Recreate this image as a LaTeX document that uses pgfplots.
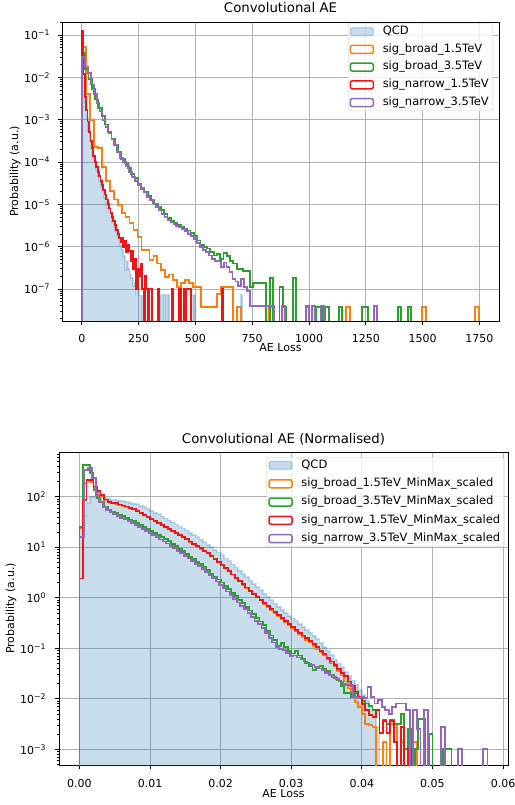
\documentclass[border=0pt]{standalone}
\usepackage{pgfplots}
\pgfplotsset{compat=1.18}
\usepackage{pgfplotstable}
\usepackage{fontspec}
\setmainfont{DejaVu Sans}

\definecolor{qcdblue}{HTML}{1F77B4}
\definecolor{cOrange}{HTML}{FF7F0E}
\definecolor{cGreen}{HTML}{2CA02C}
\definecolor{cRed}{RGB}{240,20,20}
\definecolor{cPurple}{HTML}{9467BD}
\definecolor{gridgray}{HTML}{B0B0B0}
\definecolor{legframe}{HTML}{CCCCCC}

% ---------- raw AE loss: bin left edge, density ----------
\pgfplotstableread{
x y
0 1e-12
0 0.100
7 0.012
14 0.0025
21 0.0011
28 0.00055
35 0.00032
42 0.00020
49 0.00013
56 0.000088
63 0.000064
70 0.000047
77 0.000035
84 0.000026
91 0.000019
98 0.000014
105 0.0000105
112 0.0000082
119 0.0000064
126 0.0000049
133 0.0000038
140 0.0000029
147 0.0000023
154 0.0000018
161 0.0000014
168 0.0000011
175 0.00000085
182 0.0000006
189 0.00000028
196 0.00000045
203 0.0000003
210 0.00000022
217 0.00000018
224 0.00000012
231 0.00000014
238 0.00000007
245 0.00000010
252 0.00000007
259 0.00000007
266 1e-12
343 0.000000072
350 1e-12
357 0.000000072
364 0.000000072
371 1e-12
378 0.000000072
385 1e-12
490 0.000000072
497 1e-12
700 0.000000072
707 1e-12
}\qcdraw

\pgfplotstableread{
x y
0 1e-12
0 0.053
17.5 0.0040
35 0.00098
52.5 0.00023
70 0.00021
87.5 0.000075
105 0.000036
122.5 0.000021
140 0.000013
157.5 0.0000098
175 0.0000062
192.5 0.0000050
210 0.0000036
227.5 0.0000025
245 0.0000017
262.5 0.00000085
280 0.00000082
297.5 0.00000048
315 0.00000060
332.5 0.00000040
350 0.00000028
367.5 0.00000019
385 0.00000022
402.5 0.00000016
420 0.00000011
437.5 0.00000014
455 0.00000016
472.5 0.00000014
490 0.00000011
507.5 0.00000011
525 0.000000038
542.5 0.000000038
560 0.000000038
577.5 0.000000038
595 0.000000075
612.5 0.00000011
630 0.00000011
647.5 0.00000011
665 1e-12
682.5 0.000000038
700 1e-12
822.5 0.000000038
840 1e-12
1162.5 0.000000038
1180 1e-12
1497.5 0.000000038
1515 1e-12
1732 0.000000038
1749 1e-12
}\bbroadraw

\pgfplotstableread{
x y
0 1e-12
0 0.037
14.5 0.016
29 0.0090
43.5 0.0052
58 0.0030
72.5 0.0019
87 0.0012
101.5 0.00077
116 0.00052
130.5 0.00036
145 0.00026
159.5 0.00017
174 0.000118
188.5 0.000095
203 0.000072
217.5 0.000052
232 0.000041
246.5 0.000031
261 0.000025
275.5 0.000020
290 0.000016
304.5 0.0000125
319 0.0000102
333.5 0.0000086
348 0.0000072
362.5 0.0000058
377 0.0000047
391.5 0.0000041
406 0.0000036
420.5 0.0000032
435 0.0000030
449.5 0.0000026
464 0.0000024
478.5 0.0000021
493 0.0000018
507.5 0.0000014
522 0.0000011
536.5 0.0000010
551 0.00000090
565.5 0.00000075
580 0.00000062
594.5 0.00000068
609 0.00000050
623.5 0.00000070
638 0.00000060
652.5 0.00000045
667 0.00000040
681.5 0.00000030
696 0.00000030
710.5 0.00000026
725 0.00000026
739.5 0.00000011
754 0.00000014
768.5 0.00000014
783 0.00000014
797.5 0.00000014
812 1e-12
826.5 0.00000018
841 1e-12
870 0.00000011
884.5 0.000000038
899 1e-12
928 0.00000018
942.5 1e-12
986 0.000000038
1000.5 1e-12
1029.5 0.000000038
1044 0.000000038
1058.5 1e-12
1073 0.000000038
1087.5 1e-12
1131 0.000000038
1145.5 1e-12
1232 0.000000038
1246.5 0.000000038
1261 1e-12
1392 0.000000038
1406.5 1e-12
1435.5 0.000000038
1450 1e-12
}\gbroadraw

\pgfplotstableread{
x y
0 1e-12
0 0.124
6.3 0.012
12.6 0.0034
18.9 0.0017
25.2 0.00090
31.5 0.00052
37.8 0.00032
44.1 0.00021
50.4 0.00014
56.7 0.000100
63.0 0.000076
69.3 0.000058
75.6 0.000046
81.9 0.000036
88.2 0.000028
94.5 0.000022
100.8 0.000017
107.1 0.000013
113.4 0.0000102
119.7 0.0000080
126.0 0.0000063
132.3 0.0000050
138.6 0.0000040
144.9 0.0000032
151.2 0.0000025
157.5 0.0000020
163.8 0.0000016
170.1 0.0000013
176.4 0.0000016
182.7 0.0000010
189.0 0.0000014
195.3 0.00000075
201.6 0.0000011
207.9 0.0000008
214.2 0.00000045
220.5 0.0000008
226.8 0.0000003
233.1 0.0000005
239.4 0.0000001
245.7 0.0000003
252.0 0.0000002
258.3 0.0000004
264.6 0.0000001
270.9 1e-12
277.2 0.0000002
283.5 0.0000001
289.8 1e-12
296.1 0.0000001
302.4 0.0000001
308.7 1e-12
333.9 0.0000001
340.2 1e-12
397.0 0.0000001
403.3 1e-12
428.5 0.0000001
434.8 1e-12
447.4 0.0000001
453.7 1e-12
460.0 0.0000001
466.3 0.0000001
472.6 0.0000001
478.9 1e-12
617.5 0.0000001
623.8 1e-12
}\rnarrowraw

\pgfplotstableread{
x y
0 1e-12
0 0.030
13 0.018
26 0.0125
39 0.0068
52 0.0040
65 0.0025
78 0.0016
91 0.0010
104 0.00068
117 0.00047
130 0.00034
143 0.00025
156 0.00017
169 0.000125
182 0.000098
195 0.000080
208 0.000058
221 0.000045
234 0.000036
247 0.000028
260 0.000023
273 0.000019
286 0.000015
299 0.0000125
312 0.0000105
325 0.0000088
338 0.0000074
351 0.0000060
364 0.0000050
377 0.0000043
390 0.0000038
403 0.0000034
416 0.0000031
429 0.0000029
442 0.0000026
455 0.0000023
468 0.0000020
481 0.0000018
494 0.0000015
507 0.0000012
520 0.0000010
533 0.00000085
546 0.00000075
559 0.00000062
572 0.00000050
585 0.00000045
598 0.00000045
611 0.00000033
624 0.00000042
637 0.00000033
650 0.00000025
663 0.00000017
676 0.00000015
689 0.00000012
702 0.00000017
715 0.00000011
728 0.00000009
741 0.00000004
754 0.00000004
767 0.00000004
780 0.00000004
793 0.00000004
806 0.00000004
819 0.00000004
832 0.00000004
845 1e-12
880 0.00000004
893 1e-12
988 0.00000004
1001 1e-12
1014 0.00000004
1027 1e-12
1053 0.00000004
1066 1e-12
1287 0.00000004
1300 1e-12
}\pnarrowraw

% ---------- MinMax-scaled AE loss ----------
\pgfplotstableread{
x y
0 1e-12
0 25
0.0005 42
0.0010 76
0.0015 100
0.0020 100
0.0025 98
0.0030 96
0.0035 93
0.0040 89
0.0045 87
0.0050 85
0.0055 83
0.0060 81
0.0065 78.5
0.0070 76
0.0075 73
0.0080 71
0.0085 66
0.0090 62
0.0095 57
0.0100 52.5
0.0105 48.4
0.0110 44.7
0.0115 40.7
0.0120 37.2
0.0125 33.9
0.0130 30.9
0.0135 28.2
0.0140 25.7
0.0145 23.4
0.0150 21.4
0.0155 19.3
0.0160 17.4
0.0165 15.7
0.0170 14.1
0.0175 12.6
0.0180 11.2
0.0185 10.0
0.0190 8.9
0.0195 7.85
0.0200 6.9
0.0205 6.0
0.0210 5.25
0.0215 4.57
0.0220 3.98
0.0225 3.43
0.0230 2.95
0.0235 2.54
0.0240 2.19
0.0245 1.88
0.0250 1.62
0.0255 1.40
0.0260 1.20
0.0265 1.035
0.0270 0.89
0.0275 0.77
0.0280 0.66
0.0285 0.575
0.0290 0.50
0.0295 0.44
0.0300 0.39
0.0305 0.343
0.0310 0.30
0.0315 0.266
0.0320 0.234
0.0325 0.204
0.0330 0.178
0.0335 0.151
0.0340 0.126
0.0345 0.106
0.0350 0.089
0.0355 0.073
0.0360 0.060
0.0365 0.050
0.0370 0.042
0.0375 0.034
0.0380 0.028
0.0385 0.023
0.0390 0.019
0.0395 0.015
0.0400 0.012
0.0405 0.0093
0.0410 0.0071
0.0415 0.0050
0.0420 0.0028
0.0425 1e-12
}\qcdnorm

\pgfplotstableread{
x y
0 1e-12
0 24
0.0005 190
0.0010 200
0.0015 198
0.0020 150
0.0025 125
0.0030 105
0.0035 87
0.0040 79
0.0045 75
0.0050 72
0.0055 69
0.0060 66
0.0065 63
0.0070 59
0.0075 56
0.0080 52
0.0085 48
0.0090 44
0.0095 40
0.0100 36
0.0105 33
0.0110 30
0.0115 27.5
0.0120 25
0.0125 23
0.0130 21
0.0135 19
0.0140 17.2
0.0145 15.8
0.0150 14.2
0.0155 12.9
0.0160 11.7
0.0165 10.4
0.0170 9.4
0.0175 8.5
0.0180 7.5
0.0185 6.7
0.0190 5.9
0.0195 5.1
0.0200 4.5
0.0205 3.9
0.0210 3.3
0.0215 2.9
0.0220 2.45
0.0225 2.15
0.0230 1.80
0.0235 1.58
0.0240 1.36
0.0245 1.16
0.0250 1.02
0.0255 0.88
0.0260 0.76
0.0265 0.66
0.0270 0.57
0.0275 0.50
0.0280 0.44
0.0285 0.38
0.0290 0.33
0.0295 0.29
0.0300 0.25
0.0305 0.22
0.0310 0.19
0.0315 0.165
0.0320 0.145
0.0325 0.13
0.0330 0.11
0.0335 0.095
0.0340 0.085
0.0345 0.074
0.0350 0.060
0.0355 0.050
0.0360 0.044
0.0365 0.036
0.0370 0.029
0.0375 0.022
0.0380 0.016
0.0385 0.011
0.0390 0.0085
0.0395 0.0070
0.0400 0.0050
0.0405 0.0032
0.0410 0.0030
0.0415 0.0028
0.0420 1e-12
0.0430 0.0014
0.0435 1e-12
0.0440 0.0032
0.0445 0.0032
0.0450 1e-12
0.0455 0.0014
0.0460 1e-12
0.0473 0.0014
0.0478 1e-12
}\bbroadnorm

\pgfplotstableread{
x y
0 1e-12
0 25.5
0.0005 424
0.0010 424
0.0015 295
0.0020 136
0.0025 95
0.0030 79
0.0035 63
0.0040 56
0.0045 51
0.0050 47
0.0055 44
0.0060 41
0.0065 38
0.0070 35.5
0.0075 33
0.0080 30
0.0085 27.5
0.0090 25
0.0095 23
0.0100 21
0.0105 19
0.0110 17.4
0.0115 15.8
0.0120 14.5
0.0125 13.2
0.0130 11.7
0.0135 10.5
0.0140 9.3
0.0145 8.3
0.0150 7.4
0.0155 6.5
0.0160 5.75
0.0165 5.1
0.0170 4.6
0.0175 4.0
0.0180 3.5
0.0185 3.0
0.0190 2.6
0.0195 2.3
0.0200 2.0
0.0205 1.7
0.0210 1.48
0.0215 1.26
0.0220 1.07
0.0225 0.91
0.0230 0.78
0.0235 0.66
0.0240 0.56
0.0245 0.47
0.0250 0.40
0.0255 0.34
0.0260 0.29
0.0265 0.22
0.0270 0.18
0.0275 0.148
0.0280 0.112
0.0285 0.126
0.0290 0.105
0.0295 0.089
0.0300 0.079
0.0305 0.087
0.0310 0.072
0.0315 0.063
0.0320 0.052
0.0325 0.045
0.0330 0.037
0.0335 0.043
0.0340 0.044
0.0345 0.040
0.0350 0.035
0.0355 0.030
0.0360 0.026
0.0365 0.023
0.0370 0.018
0.0375 0.013
0.0380 0.013
0.0385 0.011
0.0390 0.013
0.0395 0.011
0.0400 0.0089
0.0405 0.0081
0.0410 0.0071
0.0415 0.0060
0.0420 0.0060
0.0425 0.0021
0.0430 0.0038
0.0435 0.0032
0.0440 0.0038
0.0445 0.0032
0.0450 0.0032
0.0455 0.0050
0.0460 0.0010
0.0465 0.0025
0.0470 1e-12
0.0475 0.0010
0.0480 0.0040
0.0485 0.0040
0.0490 1e-12
0.0495 0.0020
0.0500 1e-12
0.0515 0.0010
0.0527 1e-12
}\gbroadnorm

\pgfplotstableread{
x y
0 1e-12
0 2.4
0.0005 86
0.0010 214
0.0015 214
0.0020 160
0.0025 128
0.0030 108
0.0035 88
0.0040 80
0.0045 76
0.0050 74
0.0055 70
0.0060 67
0.0065 64
0.0070 60
0.0075 57
0.0080 53
0.0085 48
0.0090 44
0.0095 40
0.0100 36
0.0105 33
0.0110 30
0.0115 27.5
0.0120 25
0.0125 23
0.0130 21
0.0135 19
0.0140 17.4
0.0145 15.8
0.0150 14.4
0.0155 13.0
0.0160 11.7
0.0165 10.5
0.0170 9.5
0.0175 8.5
0.0180 7.6
0.0185 6.7
0.0190 5.9
0.0195 5.2
0.0200 4.5
0.0205 3.9
0.0210 3.4
0.0215 2.9
0.0220 2.5
0.0225 2.15
0.0230 1.86
0.0235 1.60
0.0240 1.38
0.0245 1.20
0.0250 1.05
0.0255 0.91
0.0260 0.79
0.0265 0.69
0.0270 0.60
0.0275 0.52
0.0280 0.46
0.0285 0.40
0.0290 0.35
0.0295 0.30
0.0300 0.26
0.0305 0.23
0.0310 0.20
0.0315 0.18
0.0320 0.16
0.0325 0.14
0.0330 0.12
0.0335 0.105
0.0340 0.089
0.0345 0.076
0.0350 0.065
0.0355 0.055
0.0360 0.047
0.0365 0.039
0.0370 0.033
0.0375 0.028
0.0380 0.022
0.0385 0.018
0.0390 0.014
0.0395 0.011
0.0400 0.008
0.0405 0.0060
0.0410 0.0048
0.0415 0.0044
0.0420 0.0060
0.0425 0.0021
0.0430 0.0036
0.0435 0.0021
0.0440 0.0036
0.0445 0.0014
0.0450 1e-12
0.0455 0.0028
0.0460 1e-12
0.0465 0.0010
0.0470 1e-12
}\rnarrownorm

\pgfplotstableread{
x y
0 1e-12
0 16
0.0006 340
0.0012 370
0.0018 234
0.0023 110
0.0028 80
0.0033 63
0.0038 55
0.0043 49
0.0048 45
0.0053 41.5
0.0058 38.5
0.0063 35.5
0.0068 33
0.0073 30.5
0.0078 28
0.0083 25.5
0.0088 23
0.0093 21
0.0098 19
0.0103 17.3
0.0108 15.8
0.0113 14.3
0.0118 13.0
0.0123 11.9
0.0128 10.7
0.0133 9.6
0.0138 8.5
0.0143 7.6
0.0148 6.8
0.0153 6.0
0.0158 5.3
0.0163 4.7
0.0168 4.2
0.0173 3.7
0.0178 3.2
0.0183 2.8
0.0188 2.45
0.0193 2.1
0.0198 1.8
0.0203 1.55
0.0208 1.33
0.0213 1.13
0.0218 0.96
0.0223 0.81
0.0228 0.69
0.0233 0.59
0.0238 0.50
0.0243 0.42
0.0248 0.35
0.0253 0.30
0.0258 0.25
0.0263 0.20
0.0268 0.16
0.0273 0.13
0.0278 0.105
0.0283 0.098
0.0288 0.092
0.0293 0.080
0.0298 0.070
0.0303 0.072
0.0308 0.066
0.0313 0.060
0.0318 0.055
0.0323 0.050
0.0328 0.046
0.0333 0.043
0.0338 0.040
0.0343 0.037
0.0348 0.033
0.0353 0.030
0.0358 0.027
0.0363 0.025
0.0368 0.022
0.0373 0.020
0.0378 0.019
0.0383 0.0185
0.0388 0.011
0.0393 0.0105
0.0398 0.011
0.0403 0.0105
0.0408 0.0174
0.0413 0.011
0.0418 0.0081
0.0423 0.0095
0.0428 0.0070
0.0433 0.0060
0.0438 0.0051
0.0443 0.0069
0.0448 0.0081
0.0453 0.0081
0.0458 0.0081
0.0463 0.0060
0.0468 1e-12
0.0473 0.0060
0.0478 0.0025
0.0483 1e-12
0.0488 0.0060
0.0494 1e-12
0.0512 0.0028
0.0518 1e-12
0.0536 0.0010
0.0542 1e-12
0.0572 0.0010
0.0578 1e-12
}\pnarrownorm

\pgfplotsset{
  hstep/.style={const plot mark left, no marks, line width=1.8pt, line join=miter},
  sigbox/.style={legend image code/.code={%
    \draw[line width=1.5pt, draw=#1, fill=none] (0pt,-4pt) rectangle (23pt,4pt);
    \path (29pt,0pt);}},
  qcdbox/.style={legend image code/.code={%
    \draw[line width=1.5pt, fill=qcdblue, fill opacity=0.25, draw=qcdblue, draw opacity=0.25] (0pt,-4pt) rectangle (23pt,4pt);
    \path (29pt,0pt);}},
  aepanel/.style={
    scale only axis,
    tick align=outside, tick pos=left,
    major tick length=3.9pt, minor tick length=2.2pt,
    major tick style={black, line width=0.8pt},
    minor tick style={black, line width=0.6pt},
    axis line style={black, line width=0.9pt},
    grid=major, major grid style={gridgray, line width=0.8pt},
    tick label style={font=\fontsize{11}{12}\selectfont},
    label style={font=\fontsize{11}{12}\selectfont},
    title style={font=\fontsize{13.3}{15}\selectfont},
    yticklabel style={anchor=east, inner sep=0pt},
    xticklabel style={anchor=base, inner sep=0pt},
    legend cell align=left,
    legend style={draw=legframe, rounded corners=2pt, fill=white, fill opacity=0.8, text opacity=1,
      font=\fontsize{11.5}{12}\selectfont, inner sep=1.5pt,
      nodes={inner xsep=2.5pt, inner ysep=1.5pt, text height=8pt, text depth=2.5pt}},
  },
}

\begin{document}
\begin{tikzpicture}[x=1pt,y=1pt]
\useasboundingbox (0,0) rectangle (514,805);

\begin{axis}[ymode=log, aepanel, anchor=south west,
  at={(62pt,484pt)}, width=437pt, height=299pt,
  xmin=-87.5, xmax=1836.5, ymin=1.75e-8, ymax=0.203,
  xtick={0,250,500,750,1000,1250,1500,1750},
  xticklabels={0,250,500,750,1000,1250,1500,1750},
  xticklabel style={yshift=-17.3pt},
  ytick={1e-7,1e-6,1e-5,1e-4,1e-3,1e-2,1e-1},
  yticklabels={10\textsuperscript{−7},10\textsuperscript{−6},10\textsuperscript{−5},10\textsuperscript{−4},10\textsuperscript{−3},10\textsuperscript{−2},10\textsuperscript{−1}},
  yticklabel style={xshift=-8pt},
  minor ytick={2e-8,3e-8,4e-8,5e-8,6e-8,7e-8,8e-8,9e-8,
    2e-7,3e-7,4e-7,5e-7,6e-7,7e-7,8e-7,9e-7,
    2e-6,3e-6,4e-6,5e-6,6e-6,7e-6,8e-6,9e-6,
    2e-5,3e-5,4e-5,5e-5,6e-5,7e-5,8e-5,9e-5,
    2e-4,3e-4,4e-4,5e-4,6e-4,7e-4,8e-4,9e-4,
    2e-3,3e-3,4e-3,5e-3,6e-3,7e-3,8e-3,9e-3,
    2e-2,3e-2,4e-2,5e-2,6e-2,7e-2,8e-2,9e-2,2e-1},
  title={Convolutional AE},
  title style={at={(axis description cs:0.5,1)}, anchor=base, yshift=3.5pt},
  xlabel={AE Loss},
  xlabel style={at={(axis description cs:0.5,0)}, anchor=base, yshift=-30.8pt},
  ylabel={Probability (a.u.)},
  ylabel style={at={(axis description cs:-0.1076,0.5)}, anchor=center},
  legend style={at={(axis description cs:0.9863,0.9957)}, anchor=north east, row sep=4.2pt},
]
\addplot[hstep, fill=qcdblue, fill opacity=0.25, draw=qcdblue, draw opacity=0.25, qcdbox] table[x=x,y=y] {\qcdraw};
\addlegendentry{QCD}
\addplot[hstep, cOrange, sigbox=cOrange] table[x=x,y=y] {\bbroadraw};
\addlegendentry{sig\_broad\_1.5TeV\hspace{3pt}}
\addplot[hstep, cGreen, sigbox=cGreen] table[x=x,y=y] {\gbroadraw};
\addlegendentry{sig\_broad\_3.5TeV\hspace{3pt}}
\addplot[hstep, cRed, sigbox=cRed] table[x=x,y=y] {\rnarrowraw};
\addlegendentry{sig\_narrow\_1.5TeV\hspace{3pt}}
\addplot[hstep, cPurple, sigbox=cPurple] table[x=x,y=y] {\pnarrowraw};
\addlegendentry{sig\_narrow\_3.5TeV\hspace{3pt}}
\end{axis}

\begin{axis}[ymode=log, aepanel, anchor=south west,
  at={(59pt,40pt)}, width=449pt, height=313pt,
  xmin=-0.00289, xmax=0.0607, ymin=4.9e-4, ymax=768,
  xtick={0,0.01,0.02,0.03,0.04,0.05,0.06},
  xticklabels={0.00,0.01,0.02,0.03,0.04,0.05,0.06},
  xticklabel style={yshift=-18.5pt},
  ytick={1e-3,1e-2,1e-1,1,10,100},
  yticklabels={10\textsuperscript{−3},10\textsuperscript{−2},10\textsuperscript{−1},10\textsuperscript{0},10\textsuperscript{1},10\textsuperscript{2}},
  yticklabel style={xshift=-9pt},
  minor ytick={5e-4,6e-4,7e-4,8e-4,9e-4,
    2e-3,3e-3,4e-3,5e-3,6e-3,7e-3,8e-3,9e-3,
    2e-2,3e-2,4e-2,5e-2,6e-2,7e-2,8e-2,9e-2,
    0.2,0.3,0.4,0.5,0.6,0.7,0.8,0.9,
    2,3,4,5,6,7,8,9,
    20,30,40,50,60,70,80,90,
    200,300,400,500,600,700},
  title={Convolutional AE (Normalised)},
  title style={at={(axis description cs:0.5,1)}, anchor=base, yshift=2pt},
  xlabel={AE Loss},
  xlabel style={at={(axis description cs:0.5,0)}, anchor=base, yshift=-32.8pt},
  ylabel={Probability (a.u.)},
  ylabel style={at={(axis description cs:-0.1069,0.5)}, anchor=center},
  legend style={at={(axis description cs:0.9918,0.984)}, anchor=north east, row sep=4.8pt},
]
\addplot[hstep, fill=qcdblue, fill opacity=0.25, draw=qcdblue, draw opacity=0.25, qcdbox] table[x=x,y=y] {\qcdnorm};
\addlegendentry{QCD}
\addplot[hstep, cOrange, sigbox=cOrange] table[x=x,y=y] {\bbroadnorm};
\addlegendentry{sig\_broad\_1.5TeV\_MinMax\_scaled\hspace{3pt}}
\addplot[hstep, cGreen, sigbox=cGreen] table[x=x,y=y] {\gbroadnorm};
\addlegendentry{sig\_broad\_3.5TeV\_MinMax\_scaled\hspace{3pt}}
\addplot[hstep, cRed, sigbox=cRed] table[x=x,y=y] {\rnarrownorm};
\addlegendentry{sig\_narrow\_1.5TeV\_MinMax\_scaled\hspace{3pt}}
\addplot[hstep, cPurple, sigbox=cPurple] table[x=x,y=y] {\pnarrownorm};
\addlegendentry{sig\_narrow\_3.5TeV\_MinMax\_scaled\hspace{3pt}}
\end{axis}
\end{tikzpicture}
\end{document}
